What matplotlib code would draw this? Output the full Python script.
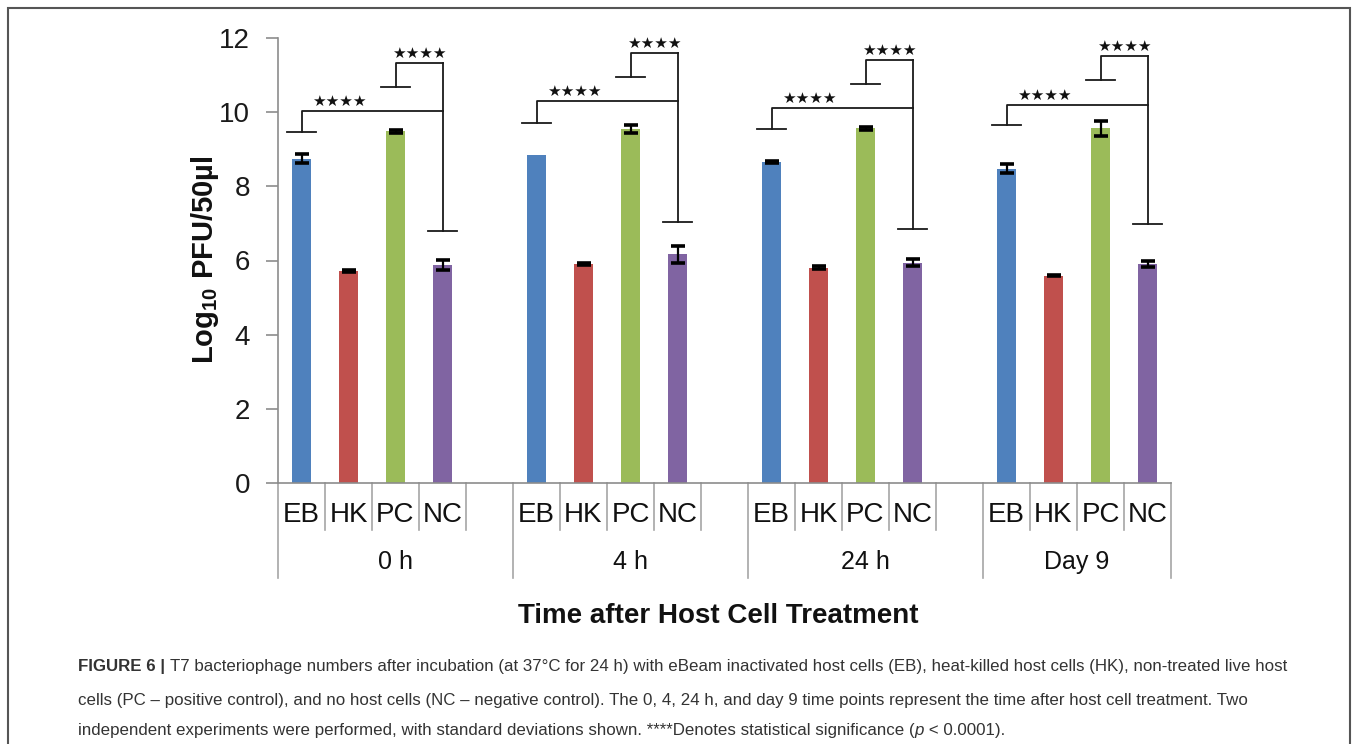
import matplotlib
matplotlib.use("Agg")
import matplotlib.pyplot as plt
from matplotlib.patches import Rectangle

plt.rcParams['font.family'] = ['Liberation Sans', 'DejaVu Sans']
plt.rcParams['mathtext.fontset'] = 'custom'
plt.rcParams['mathtext.rm'] = 'Liberation Sans'
plt.rcParams['mathtext.default'] = 'regular'

groups = ["0 h", "4 h", "24 h", "Day 9"]
treatments = ["EB", "HK", "PC", "NC"]
colors = ["#4F81BD", "#C0504D", "#9BBB59", "#8064A2"]

# log10 PFU/50ul, one value per time point
eb_mean = [8.75, 8.84, 8.66, 8.48]
hk_mean = [5.72, 5.91, 5.81, 5.59]
pc_mean = [9.48, 9.55, 9.56, 9.56]
nc_mean = [5.88, 6.17, 5.94, 5.91]

eb_sd = [0.13, 0.0, 0.03, 0.12]
hk_sd = [0.03, 0.02, 0.03, 0.02]
pc_sd = [0.03, 0.10, 0.03, 0.20]
nc_sd = [0.13, 0.23, 0.10, 0.09]

# significance bracket levels
eb_low = [9.46, 9.72, 9.54, 9.65]
eb_nc_top = [10.03, 10.30, 10.10, 10.20]
pc_low = [10.69, 10.95, 10.77, 10.88]
pc_nc_top = [11.33, 11.59, 11.40, 11.51]
nc_low = [6.79, 7.04, 6.85, 6.98]

means = [eb_mean, hk_mean, pc_mean, nc_mean]
sds = [eb_sd, hk_sd, pc_sd, nc_sd]

W, H = 1357, 744
fig = plt.figure(figsize=(W / 100, H / 100), dpi=100)
ax = fig.add_axes([278 / W, 1 - 483 / H, (1171 - 278) / W, 445 / H])

n_slots = 5 * len(groups) - 1
for t, name in enumerate(treatments):
    xs = [5 * g + t for g in range(len(groups))]
    ax.bar(xs, means[t], width=0.4, color=colors[t], linewidth=0, zorder=2)
    for x, m, s in zip(xs, means[t], sds[t]):
        if s > 0:
            ax.errorbar(x, m, yerr=s, fmt='none', ecolor='black', elinewidth=1.6,
                        capsize=5, capthick=2.6, zorder=3)

lc = '#1a1a1a'
lw = 1.3
h = 0.3
star_kw = dict(ha='center', va='center', fontsize=11, family='DejaVu Sans', color='#111111')
for g in range(len(groups)):
    xe, xp, xn = 5 * g, 5 * g + 2, 5 * g + 3
    ax.plot([xe - h, xe + h], [eb_low[g]] * 2, color=lc, lw=lw)
    ax.plot([xe, xe, xn], [eb_low[g], eb_nc_top[g], eb_nc_top[g]], color=lc, lw=lw)
    ax.plot([xp - h, xp + h], [pc_low[g]] * 2, color=lc, lw=lw)
    ax.plot([xp, xp, xn], [pc_low[g], pc_nc_top[g], pc_nc_top[g]], color=lc, lw=lw)
    ax.plot([xn, xn], [pc_nc_top[g], nc_low[g]], color=lc, lw=lw)
    ax.plot([xn - h, xn + h], [nc_low[g]] * 2, color=lc, lw=lw)
    ax.text(xe + 0.8, eb_nc_top[g] + 0.26, "★★★★", **star_kw)
    ax.text((xp + xn) / 2, pc_nc_top[g] + 0.26, "★★★★", **star_kw)

ax.set_xlim(-0.5, n_slots - 0.5)
ax.set_ylim(0, 12)
ax.set_yticks(range(0, 13, 2))
ax.set_xticks([])
for sp in ['top', 'right']:
    ax.spines[sp].set_visible(False)
for sp in ['left', 'bottom']:
    ax.spines[sp].set_color('#8c8c8c')
    ax.spines[sp].set_linewidth(1.2)
ax.tick_params(axis='y', length=9, width=1.2, color='#8c8c8c', pad=11, labelsize=20,
               labelcolor='#1a1a1a')

# two-level category axis
tr = ax.get_xaxis_transform()
sep_c = '#a6a6a6'
for k in range(n_slots + 1):
    x = k - 0.5
    long_sep = (k % 5 == 0) or k == n_slots
    ax.plot([x, x], [0, -0.2135 if long_sep else -0.106], transform=tr,
            color=sep_c, lw=1.2, clip_on=False)
for g, gname in enumerate(groups):
    for t, name in enumerate(treatments):
        ax.text(5 * g + t, -0.072, name, transform=tr, ha='center', va='center',
                fontsize=20, color='#111111')
    ax.text(5 * g + 1.5 + (0.5 if g < 3 else 0), -0.178, gname, transform=tr,
            ha='center', va='center', fontsize=18, color='#111111')

fig.text(205 / W, 1 - 260 / H, "Log$_{10}$ PFU/50µl", rotation=90, ha='center', va='center',
         fontsize=21, fontweight='bold', color='#111111')
fig.text(718 / W, 1 - 616 / H, "Time after Host Cell Treatment", ha='center', va='center',
         fontsize=20, fontweight='bold', color='#111111')

# frame
fig.add_artist(Rectangle((8 / W, -0.1), (1350 - 8) / W, 1.1 - 8 / H, transform=fig.transFigure,
                         fill=False, edgecolor='#555555', lw=1.5))

# caption
cap_size = 12.2
cap_col = '#333333'
fig.canvas.draw()
renderer = fig.canvas.get_renderer()


def put(x_px, y_px, s, **kw):
    t = fig.text(x_px / W, 1 - y_px / H, s, ha='left', va='center', fontsize=cap_size,
                 color=cap_col, **kw)
    bb = t.get_window_extent(renderer)
    return x_px + bb.width


x = put(78, 667, "FIGURE 6 | ", fontweight='bold')
put(x, 667, "T7 bacteriophage numbers after incubation (at 37°C for 24 h) with eBeam inactivated "
            "host cells (EB), heat-killed host cells (HK), non-treated live host")
put(78, 700, "cells (PC – positive control), and no host cells (NC – negative control). The 0, 4, "
             "24 h, and day 9 time points represent the time after host cell treatment. Two")
x = put(78, 730, "independent experiments were performed, with standard deviations shown. "
                 "****Denotes statistical significance (")
x = put(x, 730, "p", style='italic')
put(x, 730, " < 0.0001).")

fig.savefig("out.png", dpi=100)
